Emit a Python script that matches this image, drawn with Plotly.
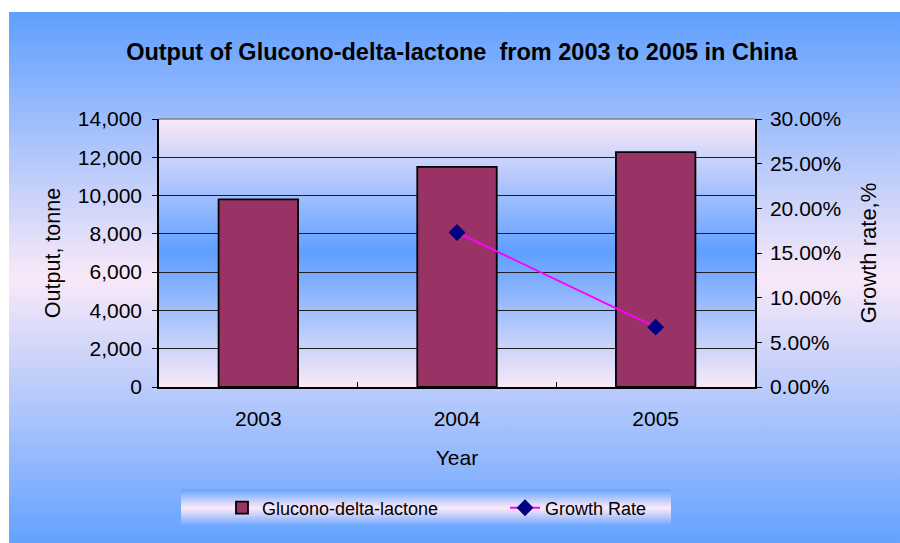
import base64
import plotly.graph_objects as go

# ---- data ----
years = ["2003", "2004", "2005"]
output_tonne = [9800, 11500, 12270]
growth_rate = [None, 0.173, 0.067]

title_text = "Output of Glucono-delta-lactone  from 2003 to 2005 in China"
bar_name = "Glucono-delta-lactone"
line_name = "Growth Rate"

W, H = 900, 543
ML, MR, MT, MB = 159, 145, 119, 156
PW, PH = W - ML - MR, H - MT - MB

BLUE = "#5f9fff"
PINK = "#f9e9f8"

svg = f'''<svg xmlns="http://www.w3.org/2000/svg" width="{W}" height="{H}" viewBox="0 0 {W} {H}" preserveAspectRatio="none">
<defs>
<linearGradient id="g1" x1="0" y1="0" x2="0" y2="1">
<stop offset="0" stop-color="{BLUE}"/><stop offset="0.5" stop-color="{PINK}"/><stop offset="1" stop-color="#64a2ff"/>
</linearGradient>
<linearGradient id="g2" x1="0" y1="0" x2="0" y2="1">
<stop offset="0" stop-color="{PINK}"/><stop offset="0.5" stop-color="{BLUE}"/><stop offset="1" stop-color="{PINK}"/>
</linearGradient>
<linearGradient id="g3" x1="0" y1="0" x2="0" y2="1">
<stop offset="0" stop-color="#66a3ff"/><stop offset="0.5" stop-color="#fdeaf8"/><stop offset="1" stop-color="#66a3ff"/>
</linearGradient>
</defs>
<rect x="0" y="0" width="{W}" height="{H}" fill="white"/>
<rect x="9" y="12" width="{W-9}" height="{H-12}" fill="url(#g1)"/>
<rect x="{ML}" y="{MT}" width="{PW}" height="{PH}" fill="url(#g2)"/>
<rect x="181" y="489" width="490" height="38" fill="url(#g3)"/>
</svg>'''
src = "data:image/svg+xml;base64," + base64.b64encode(svg.encode()).decode()

FONT = "Liberation Sans, Arial, sans-serif"

fig = go.Figure()
fig.add_trace(go.Bar(
    x=years, y=output_tonne, name=bar_name, width=0.4,
    marker=dict(color="#993366", line=dict(color="black", width=1.8)),
))
fig.add_trace(go.Scatter(
    x=years, y=growth_rate, name=line_name, yaxis="y2", mode="lines+markers",
    line=dict(color="#ff00ff", width=2),
    marker=dict(symbol="diamond", size=13, color="#000080"),
))

fig.add_layout_image(dict(
    source=src, xref="paper", yref="paper",
    x=-ML / PW, y=1 + MT / PH, sizex=W / PW, sizey=H / PH,
    xanchor="left", yanchor="top", sizing="stretch", layer="below",
))

# top border of plot area (gray)
fig.add_shape(type="line", xref="paper", yref="paper", x0=0, x1=1, y0=1, y1=1,
              line=dict(color="#808080", width=1.5))

fig.update_layout(
    width=W, height=H,
    margin=dict(l=ML, r=MR, t=MT, b=MB, autoexpand=False),
    paper_bgcolor="white", plot_bgcolor="rgba(0,0,0,0)",
    font=dict(family=FONT, size=21, color="black"),
    title=dict(text="<b>" + title_text + "</b>", x=0.513, xanchor="center",
               y=1 - 52 / H, yanchor="middle", yref="container",
               font=dict(size=23.5, family=FONT, color="black")),
    bargap=0.6,
    showlegend=True,
    legend=dict(orientation="h", x=(222 - ML) / PW, xanchor="left",
                y=-(508 - MT - PH) / PH, yanchor="middle",
                bgcolor="rgba(0,0,0,0)", font=dict(size=18),
                entrywidth=238, traceorder="normal"),
    xaxis=dict(
        type="category", showline=True, linecolor="black", linewidth=1.5,
        ticks="inside", ticklen=5, tickcolor="black", tickson="boundaries",
        ticklabelstandoff=12, showgrid=False,
        title=dict(text="Year", standoff=21, font=dict(size=21)),
    ),
    yaxis=dict(
        range=[0, 14000], dtick=2000, tickformat=",d", showline=True,
        linecolor="black", linewidth=1.5, ticks="outside", ticklen=5,
        tickcolor="black", showgrid=True, gridcolor="#202020", gridwidth=1,
        zeroline=False, ticklabelstandoff=6,
        title=dict(text="Output, tonne", standoff=11, font=dict(size=21.5)),
    ),
    yaxis2=dict(
        overlaying="y", side="right", range=[0, 0.30], dtick=0.05,
        tickformat=".2%", showline=True, linecolor="black", linewidth=1.5,
        ticks="outside", ticklen=5, tickcolor="black", showgrid=False,
        zeroline=False, ticklabelstandoff=4,
        title=dict(text="Growth rate,%", standoff=20, font=dict(size=22)),
    ),
)

fig.write_html("out.html", config={"displayModeBar": False},
               post_script="document.body.style.margin='0';")
